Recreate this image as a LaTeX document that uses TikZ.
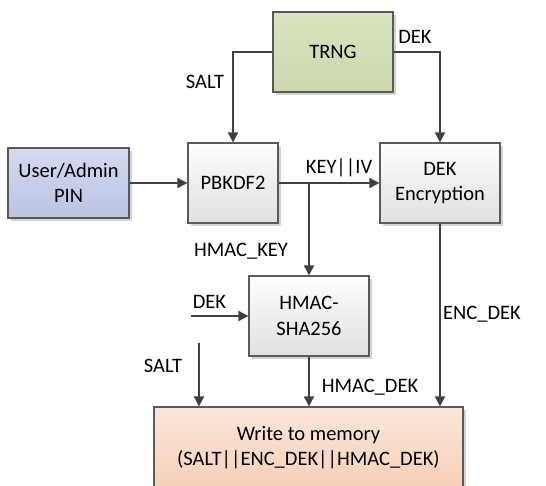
\documentclass[tikz,border=0pt]{standalone}
\usepackage{fontspec}
\setmainfont{Carlito}
\usetikzlibrary{arrows.meta,shadows,calc}
\definecolor{lnc}{HTML}{404040}
\definecolor{bdr}{HTML}{5A5A5A}
\definecolor{grayT}{HTML}{FDFDFD}
\definecolor{grayB}{HTML}{E0E0E0}
\definecolor{greenT}{HTML}{D8E4BF}
\definecolor{greenB}{HTML}{CCD9AD}
\definecolor{blueT}{HTML}{D5DAF0}
\definecolor{blueB}{HTML}{BAC3E2}
\definecolor{peachT}{HTML}{FAE6DA}
\definecolor{peachB}{HTML}{F6D0B8}
\tikzset{
  box/.style={draw=bdr, line width=1.2pt, align=center, inner sep=2pt,
    font=\fontsize{20.5}{25.5}\selectfont,
    drop shadow={shadow xshift=2.5pt, shadow yshift=-2.5pt, opacity=0.35, fill=gray}},
  graybox/.style={box, top color=grayT, bottom color=grayB},
  lbl/.style={font=\fontsize{20.5}{25.5}\selectfont, inner sep=0pt, anchor=base},
  conn/.style={draw=lnc, line width=1.8pt, -{Triangle[length=10pt,width=10pt]}},
}
\begin{document}
\begin{tikzpicture}[x=1pt,y=-1pt]
\useasboundingbox (0,0) rectangle (546,485);
\node[box, top color=greenT, bottom color=greenB, minimum width=120pt, minimum height=80pt] (trng) at (333,52) {TRNG};
\node[box, top color=blueT, bottom color=blueB, minimum width=121pt, minimum height=70pt] (user) at (68.5,183) {User/Admin\\PIN};
\node[graybox, minimum width=90pt, minimum height=80pt] (pbkdf) at (233,183) {PBKDF2};
\node[graybox, minimum width=120pt, minimum height=80pt] (dekenc) at (440,183) {DEK\\Encryption};
\node[graybox, minimum width=120pt, minimum height=80pt] (hmac) at (309,316) {HMAC-\\SHA256};
\node[box, top color=peachT, bottom color=peachB, minimum width=309pt, minimum height=84pt, text depth=6pt] (write) at (308.5,449) {Write to memory\\(SALT||ENC\_DEK||HMAC\_DEK)};

\coordinate (br) at (hmac.north |- pbkdf.east);
\coordinate (dekin) at (191,316);
\coordinate (saltin) at (199,343);

\draw[conn] (trng.west) -| (pbkdf.north);
\draw[conn] (trng.east) -| (dekenc.north);
\draw[conn] (user.east) -- (pbkdf.west);
\draw[conn] (pbkdf.east) -- (dekenc.west);
\draw[conn] (br) -- (hmac.north);
\draw[conn] (dekin) -- (hmac.west);
\draw[conn] (saltin) -- (saltin |- write.north);
\draw[conn] (hmac.south) -- (hmac.south |- write.north);
\draw[conn] (dekenc.south) -- (dekenc.south |- write.north);

\node[lbl] (l1) at (205,88) {SALT};
\node[lbl] (l2) at (415,43) {DEK};
\node[lbl] (l3) at (339,173) {KEY||IV};
\node[lbl] (l4) at (241,256) {HMAC\_KEY};
\node[lbl] (l5) at (209.5,308) {DEK};
\node[lbl] (l6) at (163,372) {SALT};
\node[lbl] (l7) at (370,392) {HMAC\_DEK};
\node[lbl] (l8) at (482,319) {ENC\_DEK};
\end{tikzpicture}
\end{document}
